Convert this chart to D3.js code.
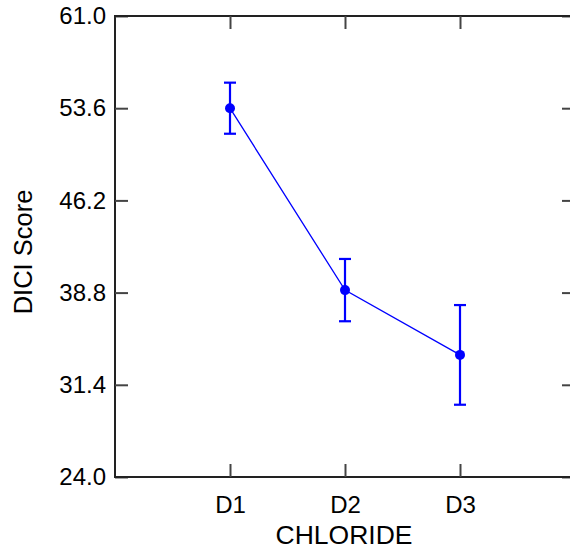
<!DOCTYPE html>
<html><head><meta charset="utf-8">
<script src="https://cdn.jsdelivr.net/npm/d3@7"></script>
<style>body{margin:0;background:#fff}svg{display:block}text{font-family:"Liberation Sans",Arial,sans-serif;fill:#000}</style>
</head><body>
<script>
const categories = ["D1","D2","D3"];
const means = [53.6, 39.0, 33.8];
const errors = [2.05, 2.5, 4.0];
const yTicks = [24.0, 31.4, 38.8, 46.2, 53.6, 61.0];
const xTitle = "CHLORIDE";
const yTitle = "DICI Score";

const W = 570, H = 550;
const m = {left:115, top:16, right:575, bottom:477};
const svg = d3.select("body").append("svg").attr("width",W).attr("height",H);

const x = d3.scalePoint().domain(["", ...categories, " "]).range([m.left, m.right]);
const y = d3.scaleLinear().domain([24, 61]).range([m.bottom, m.top]);
const tk = 13;
const axisColor = "#222";

const yl = svg.append("g").attr("transform",`translate(${m.left},0)`)
  .call(d3.axisLeft(y).tickValues(yTicks).tickFormat(d3.format(".1f")).tickSizeInner(-tk).tickSizeOuter(0).tickPadding(9));
const yr = svg.append("g").attr("transform",`translate(${m.right},0)`)
  .call(d3.axisRight(y).tickValues(yTicks).tickFormat("").tickSizeInner(-tk).tickSizeOuter(0));
const xb = svg.append("g").attr("transform",`translate(0,${m.bottom})`)
  .call(d3.axisBottom(x).tickValues(categories).tickSizeInner(-tk).tickSizeOuter(0).tickPadding(19));
const xt = svg.append("g").attr("transform",`translate(0,${m.top})`)
  .call(d3.axisTop(x).tickValues(categories).tickFormat("").tickSizeInner(-tk).tickSizeOuter(0));
[yl,yr,xb,xt].forEach(g=>{
  g.attr("font-size",null);
  g.selectAll("path.domain").attr("stroke",axisColor).attr("stroke-width",2);
  g.selectAll(".tick line").attr("stroke","#444").attr("stroke-width",2);
  g.selectAll(".tick text").style("font-size","24px").style("font-family","Liberation Sans, Arial, sans-serif").attr("fill","#000");
});
yl.select("path.domain").attr("d",`M0,${m.top-1}V${m.bottom+1}`);
yr.select("path.domain").attr("d",`M0,${m.top-1}V${m.bottom+1}`);
xb.select("path.domain").attr("d",`M${m.left-1},0H${m.right+1}`);
xt.select("path.domain").attr("d",`M${m.left-1},0H${m.right+1}`);

svg.append("text").attr("x",344).attr("y",544).attr("text-anchor","middle").style("font-size","26.5px").text(xTitle);
svg.append("text").attr("transform",`translate(32,252) rotate(-90)`).attr("text-anchor","middle").style("font-size","25.5px").text(yTitle);

const blue = "#0000ff";
const data = categories.map((c,i)=>({c, m:means[i], e:errors[i]}));
svg.append("path").datum(data).attr("fill","none").attr("stroke",blue).attr("stroke-width",1.3)
  .attr("d", d3.line().x(d=>x(d.c)).y(d=>y(d.m)));
const eb = svg.append("g").attr("stroke",blue).attr("stroke-width",2.2);
data.forEach(d=>{
  const cx = x(d.c);
  eb.append("line").attr("x1",cx).attr("x2",cx).attr("y1",y(d.m+d.e)).attr("y2",y(d.m-d.e));
  eb.append("line").attr("x1",cx-6).attr("x2",cx+6).attr("y1",y(d.m+d.e)).attr("y2",y(d.m+d.e));
  eb.append("line").attr("x1",cx-6).attr("x2",cx+6).attr("y1",y(d.m-d.e)).attr("y2",y(d.m-d.e));
});
svg.append("g").selectAll("circle").data(data).join("circle")
  .attr("cx",d=>x(d.c)).attr("cy",d=>y(d.m)).attr("r",5).attr("fill",blue);
</script>
</body></html>
